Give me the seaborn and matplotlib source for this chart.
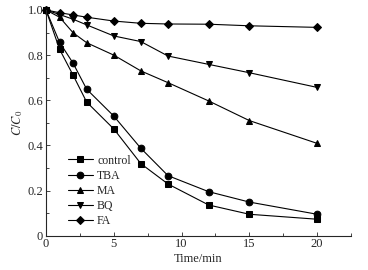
import matplotlib
matplotlib.use("Agg")
import matplotlib.pyplot as plt
from matplotlib.ticker import MultipleLocator
import seaborn as sns
import pandas as pd

# time points (min)
time = [0, 1, 2, 3, 5, 7, 9, 12, 15, 20]

# C/C0
control = [1.0, 0.826, 0.711, 0.592, 0.473, 0.319, 0.229, 0.136, 0.095, 0.073]
tba = [1.0, 0.857, 0.764, 0.649, 0.530, 0.387, 0.266, 0.195, 0.149, 0.095]
ma = [1.0, 0.968, 0.899, 0.855, 0.800, 0.730, 0.678, 0.597, 0.510, 0.409]
bq = [1.0, 0.980, 0.959, 0.934, 0.885, 0.860, 0.796, 0.759, 0.722, 0.657]
fa = [1.0, 0.988, 0.978, 0.968, 0.951, 0.941, 0.938, 0.937, 0.930, 0.923]

labels = ["control", "TBA", "MA", "BQ", "FA"]
series = [control, tba, ma, bq, fa]
markers = {"control": "s", "TBA": "o", "MA": "^", "BQ": "v", "FA": "D"}

rows = []
for name, vals in zip(labels, series):
    for t, v in zip(time, vals):
        rows.append({"time": t, "value": v, "group": name})
df = pd.DataFrame(rows)

sns.set_style("ticks")
plt.rcParams["font.family"] = ["Liberation Serif", "DejaVu Serif"]
plt.rcParams["mathtext.fontset"] = "stix"

fig = plt.figure(figsize=(3.68, 2.70), dpi=100)
ax = fig.add_axes([0.125, 0.127, 0.829, 0.836])

sns.lineplot(data=df, x="time", y="value", hue="group", style="group",
             hue_order=labels, style_order=labels,
             palette=["black"] * 5, markers=markers, dashes=False,
             markersize=4.8, linewidth=0.8, markeredgecolor="black",
             ax=ax, clip_on=False)

# diamonds look oversized at the same size, shrink them a bit
for ln in ax.lines:
    if ln.get_marker() == "D":
        ln.set_markersize(3.8)

ax.set_xlim(0, 22.5)
ax.set_ylim(0, 1.0)
ax.xaxis.set_minor_locator(MultipleLocator(2.5))
ax.yaxis.set_minor_locator(MultipleLocator(0.1))
ax.set_xticks([0, 5, 10, 15, 20])
ax.set_xticklabels(["0", "5", "10", "15", "20"])
ax.set_yticks([0, 0.2, 0.4, 0.6, 0.8, 1.0])
ax.set_yticklabels(["0", "0.2", "0.4", "0.6", "0.8", "1.0"])
ax.tick_params(which="both", direction="in", labelsize=9, width=0.6, pad=2)
ax.tick_params(which="major", length=3)
ax.tick_params(which="minor", length=2)
for s in ["left", "bottom"]:
    ax.spines[s].set_linewidth(0.8)
sns.despine(ax=ax)

ax.set_xlabel("Time/min", fontsize=9, labelpad=2)
ax.set_ylabel(r"$C/C_0$", fontsize=9, labelpad=2)

leg = ax.legend(loc="lower left", bbox_to_anchor=(0.055, 0.016), frameon=False,
                fontsize=8.5, handlelength=2.2, handletextpad=0.3,
                labelspacing=0.27, borderaxespad=0.0)
for h in leg.legend_handles:
    if h.get_marker() == "D":
        h.set_markersize(3.8)

plt.savefig("out.png", dpi=100)
